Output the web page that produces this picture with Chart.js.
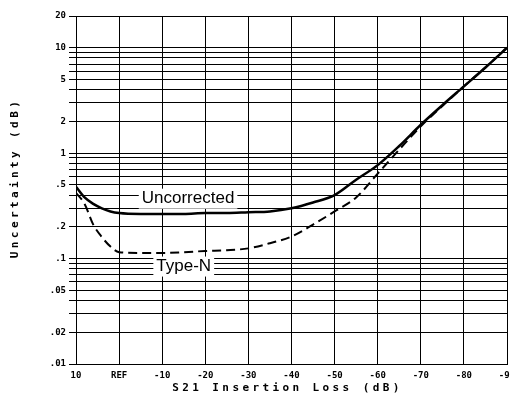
<!DOCTYPE html>
<html lang="en">
<head>
    <meta charset="UTF-8">
    <title>Uncertainty vs S21 Insertion Loss</title>
    <script src="https://cdn.jsdelivr.net/npm/chart.js"></script>
    <style>
        body { margin: 0; background: #fff; }
        #wrap { width: 510px; height: 410px; }
    </style>
</head>
<body>
    <div id="wrap">
        <canvas id="chart" width="510" height="410"></canvas>
    </div>

    <script>
        // S21 insertion loss (dB)
        const lossDb = [10, 8, 6, 4, 2, 0, -5, -10, -15, -20, -25, -30, -35, -40, -45, -50, -55, -60, -65, -70, -75, -80, -85, -90];
        // uncertainty (dB)
        const uncorrected = [0.48, 0.38, 0.33, 0.30, 0.28, 0.27, 0.265, 0.265, 0.265, 0.27, 0.27, 0.275, 0.28, 0.30, 0.34, 0.40, 0.56, 0.77, 1.17, 1.86, 2.85, 4.3, 6.5, 10];
        const typeN = [0.42, 0.33, 0.21, 0.16, 0.13, 0.115, 0.113, 0.113, 0.115, 0.118, 0.12, 0.125, 0.14, 0.162, 0.21, 0.28, 0.38, 0.64, 1.08, 1.8, 2.8, 4.3, 6.5, 10];

        const yGridValues = [0.01, 0.02, 0.03, 0.04, 0.05, 0.06, 0.07, 0.08, 0.09,
                             0.1, 0.2, 0.3, 0.4, 0.5, 0.6, 0.7, 0.8, 0.9,
                             1, 2, 3, 4, 5, 6, 7, 8, 9, 10, 20];
        const yLabelValues = [0.01, 0.02, 0.05, 0.1, 0.2, 0.5, 1, 2, 5, 10, 20];
        const yLabelText = ['.01', '.02', '.05', '.1', '.2', '.5', '1', '2', '5', '10', '20'];

        const toPoints = vals => lossDb.map((x, i) => ({ x: x, y: vals[i] }));

        // curve names written on the plot, plus spaced-out axis titles
        const annotate = {
            id: 'annotate',
            afterDraw(chart) {
                const ctx = chart.ctx;
                const xs = chart.scales.x, ys = chart.scales.y;
                ctx.save();
                ctx.font = '17px "Liberation Sans", Arial, sans-serif';
                ctx.textAlign = 'center';
                ctx.textBaseline = 'middle';
                [['Uncorrected', -16, 0.37], ['Type-N', -15, 0.084]].forEach(([txt, xv, yv]) => {
                    const px = xs.getPixelForValue(xv), py = ys.getPixelForValue(yv);
                    const w = ctx.measureText(txt).width;
                    ctx.fillStyle = '#fff';
                    ctx.fillRect(px - w / 2 - 3, py - 10, w + 6, 20);
                    ctx.fillStyle = '#000';
                    ctx.fillText(txt, px, py);
                });

                ctx.font = 'bold 11px "DejaVu Sans Mono", monospace';
                ctx.letterSpacing = '3.4px';
                ctx.fillText('S21 Insertion Loss (dB)', (chart.chartArea.left + chart.chartArea.right) / 2 - 4, 388);
                ctx.translate(15, 178);
                ctx.rotate(-Math.PI / 2);
                ctx.fillText('Uncertainty (dB)', 0, 0);
                ctx.restore();
            }
        };

        new Chart(document.getElementById('chart').getContext('2d'), {
            type: 'line',
            data: {
                datasets: [{
                    label: 'Uncorrected',
                    data: toPoints(uncorrected),
                    borderColor: '#000',
                    borderWidth: 2.5,
                    pointRadius: 0,
                    cubicInterpolationMode: 'monotone'
                }, {
                    label: 'Type-N',
                    data: toPoints(typeN),
                    borderColor: '#000',
                    borderWidth: 2,
                    borderDash: [9, 5],
                    pointRadius: 0,
                    cubicInterpolationMode: 'monotone'
                }]
            },
            options: {
                responsive: false,
                animation: false,
                layout: { padding: { top: 16, right: 3, left: 0, bottom: 0 } },
                plugins: {
                    legend: { display: false },
                    tooltip: { enabled: false }
                },
                scales: {
                    x: {
                        type: 'linear',
                        min: -90,
                        max: 10,
                        reverse: true,
                        afterFit: s => { s.height = 46; s.paddingLeft = 0; s.paddingRight = 0; },
                        border: { color: '#000', width: 1 },
                        grid: { color: '#000', lineWidth: 1, tickLength: 0 },
                        ticks: {
                            stepSize: 10,
                            padding: 6,
                            color: '#000',
                            font: { family: '"DejaVu Sans Mono", monospace', size: 9, weight: 'bold' },
                            callback: v => v === 0 ? 'REF' : String(v)
                        }
                    },
                    y: {
                        type: 'logarithmic',
                        min: 0.01,
                        max: 20,
                        afterFit: s => { s.width = 76; s.paddingTop = 0; s.paddingBottom = 0; },
                        afterBuildTicks: s => { s.ticks = yGridValues.map(v => ({ value: v })); },
                        border: { color: '#000', width: 1 },
                        grid: {
                            color: '#000',
                            lineWidth: 1,
                            tickLength: 7,
                            drawTicks: true
                        },
                        ticks: {
                            autoSkip: false,
                            padding: 3,
                            color: '#000',
                            font: { family: '"DejaVu Sans Mono", monospace', size: 9, weight: 'bold' },
                            callback: v => {
                                const i = yLabelValues.findIndex(l => Math.abs(l - v) < l * 1e-6);
                                return i >= 0 ? yLabelText[i] : '';
                            }
                        }
                    }
                }
            },
            plugins: [annotate]
        });
    </script>
</body>
</html>
